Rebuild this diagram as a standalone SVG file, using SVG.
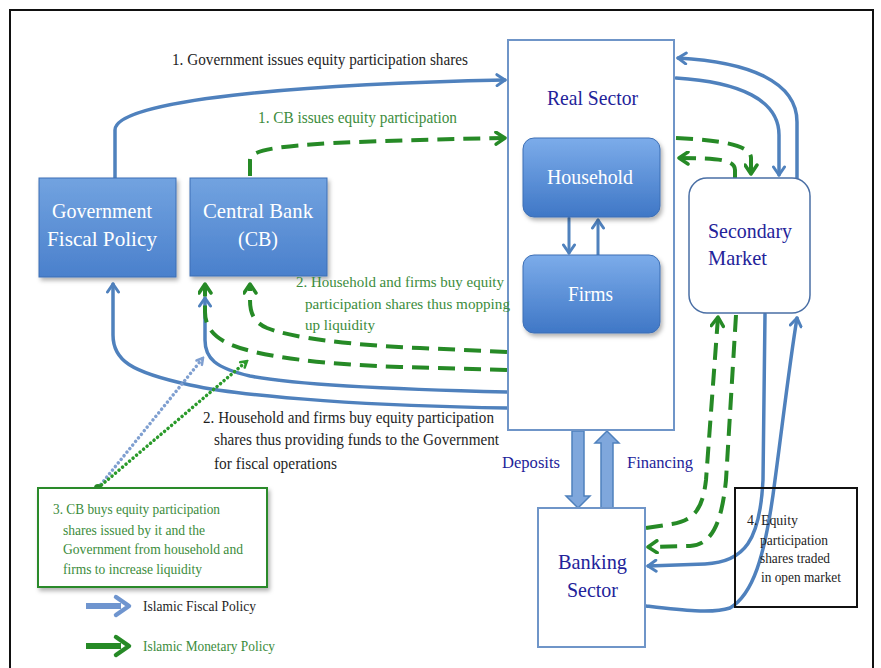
<svg xmlns="http://www.w3.org/2000/svg" width="881" height="668" viewBox="0 0 881 668">
<defs>
<linearGradient id="gBox" x1="0" y1="0" x2="0" y2="1">
<stop offset="0" stop-color="#72a3e0"/><stop offset="1" stop-color="#4a80cc"/>
</linearGradient>
<linearGradient id="gRound" x1="0" y1="0" x2="0" y2="1">
<stop offset="0" stop-color="#7cacea"/><stop offset="1" stop-color="#3f77c6"/>
</linearGradient>
<filter id="sh" x="-10%" y="-10%" width="130%" height="130%">
<feDropShadow dx="2" dy="3" stdDeviation="2" flood-color="#000" flood-opacity="0.3"/>
</filter>
<marker id="ab" viewBox="0 0 14 14" refX="11" refY="7" markerWidth="14" markerHeight="14" orient="auto" markerUnits="userSpaceOnUse">
<path d="M3,1.5 L11,7 L3,12.5" fill="none" stroke="#4f81bd" stroke-width="3" stroke-linecap="round" stroke-linejoin="round"/>
</marker>
<marker id="ag" viewBox="0 0 15 15" refX="12" refY="7.5" markerWidth="15" markerHeight="15" orient="auto" markerUnits="userSpaceOnUse">
<path d="M3,1.5 L12,7.5 L3,13.5" fill="none" stroke="#268a26" stroke-width="3.5" stroke-linecap="round" stroke-linejoin="round"/>
</marker>
<marker id="abs" viewBox="0 0 10 10" refX="8" refY="5" markerWidth="10" markerHeight="10" orient="auto" markerUnits="userSpaceOnUse">
<path d="M2,1.5 L8,5 L2,8.5" fill="none" stroke="#7f9fd0" stroke-width="2.5" stroke-linecap="round"/>
</marker>
<marker id="ags" viewBox="0 0 10 10" refX="8" refY="5" markerWidth="10" markerHeight="10" orient="auto" markerUnits="userSpaceOnUse">
<path d="M2,1.5 L8,5 L2,8.5" fill="none" stroke="#2a9a2a" stroke-width="2.5" stroke-linecap="round"/>
</marker>
</defs>
<style>
text{font-family:"Liberation Serif","Times New Roman",serif}
.blue{fill:none;stroke:#4f81bd;stroke-width:3.5;stroke-linecap:round;marker-end:url(#ab)}
.green{fill:none;stroke:#268a26;stroke-width:4;stroke-dasharray:17 9;marker-end:url(#ag)}
.dotb{fill:none;stroke:#7f9fd0;stroke-width:3.5;stroke-dasharray:0.1 4.5;stroke-linecap:round;marker-end:url(#abs)}
.dotg{fill:none;stroke:#2a9a2a;stroke-width:3.5;stroke-dasharray:0.1 4.5;stroke-linecap:round;marker-end:url(#ags)}
.sq{fill:url(#gBox);stroke:#3d6fb5;stroke-width:1;filter:url(#sh)}
.rd{fill:url(#gRound);stroke:#3d6fb5;stroke-width:1;filter:url(#sh)}
.wt{fill:#ffffff;font-size:21px}
.nv{fill:#23239a}
.gt{fill:#3c8c3c}
.bk{fill:#1e1e1e}
.blk{fill:#7fa7dc;stroke:#4f81bd;stroke-width:1.5}
</style>
<rect x="10" y="10" width="863" height="680" fill="#ffffff" stroke="#111" stroke-width="2"/>

<g id="connectors">
<path class="blue" d="M115,178 V130 C115,100 300,84 505,80"/>
<path class="green" d="M250,176 V160 C250,146 300,142 505,138"/>
<path class="blue" d="M507,408 C380,406 250,398 190,385 C130,372 113,360 113,335 V284"/>
<path class="blue" d="M507,392 C420,390 300,386 250,376 C215,368 205,358 205,340 V298"/>
<path class="green" d="M507,352 L420,348 C350,345 292,338 267,328 C253,322 250,312 250,300 V284"/>
<path class="green" d="M507,370 L400,367 C320,364 262,357 232,345 C212,337 205,325 205,312 V284"/>
<path class="dotb" d="M98,488 L203,358"/>
<path class="dotg" d="M98,488 L247,361"/>
<path class="blue" d="M797,178 V122 C797,82 750,62 678,58"/>
<path class="blue" d="M676,78 C740,82 779,100 779,135 V175"/>
<path class="green" d="M676,138 C720,140 751,145 751,158 V174"/>
<path class="green" d="M735,178 V170 C735,160 720,158 679,158"/>
<path class="green" d="M646,528 L672,524 C697,520 703,505 706,480 L718,317"/>
<path class="green" d="M736,315 L726,480 C722,520 713,545 690,546 L648,547"/>
<path class="blue" d="M765,314 L763,480 C760,540 745,562 705,564 L648,566"/>
<path class="blue" d="M646,606 C680,610 712,614 730,608 C752,595 765,560 775,480 C783,420 790,360 797,318"/>
<path class="blk" d="M572,431 H584 V496 H590 L578,508 L566,496 H572 Z"/>
<path class="blk" d="M601,508 H613 V443 H619 L607,431 L595,443 H601 Z"/>
<path class="blue" d="M569,218 V253" style="stroke-width:3"/>
<path class="blue" d="M598,255 V220" style="stroke-width:3"/>
<circle cx="98" cy="488" r="4" fill="#2a8a2a"/>
</g>

<g id="gov">
<rect class="sq" x="39" y="178" width="137" height="99"/>
<text class="wt" x="52" y="218" textLength="100" lengthAdjust="spacingAndGlyphs">Government</text>
<text class="wt" x="47" y="246" textLength="110" lengthAdjust="spacingAndGlyphs">Fiscal Policy</text>
</g>
<g id="cb">
<rect class="sq" x="190" y="178" width="137" height="98"/>
<text class="wt" x="203" y="218" textLength="110" lengthAdjust="spacingAndGlyphs">Central Bank</text>
<text class="wt" x="238" y="246" textLength="40" lengthAdjust="spacingAndGlyphs">(CB)</text>
</g>
<g id="real-sector">
<rect x="508" y="40" width="166" height="390" fill="none" stroke="#6f95c8" stroke-width="2"/>
<text class="nv" x="547" y="105" font-size="22" textLength="91" lengthAdjust="spacingAndGlyphs">Real Sector</text>
</g>
<g id="household">
<rect class="rd" x="523" y="138" width="137" height="79" rx="11"/>
<text class="wt" x="547" y="184" textLength="86" lengthAdjust="spacingAndGlyphs">Household</text>
</g>
<g id="firms">
<rect class="rd" x="523" y="255" width="137" height="78" rx="11"/>
<text class="wt" x="568" y="301" textLength="45" lengthAdjust="spacingAndGlyphs">Firms</text>
</g>
<g id="secondary-market">
<rect x="689" y="178" width="121" height="135" rx="18" fill="#fff" stroke="#4a6fa5" stroke-width="1.5"/>
<text class="nv" x="708" y="238" font-size="21" textLength="84" lengthAdjust="spacingAndGlyphs">Secondary</text>
<text class="nv" x="708" y="265" font-size="21" textLength="59" lengthAdjust="spacingAndGlyphs">Market</text>
</g>
<g id="banking-sector">
<rect x="538" y="508" width="107" height="139" fill="#fff" stroke="#6f95c8" stroke-width="2"/>
<text class="nv" x="558" y="569" font-size="22" textLength="69" lengthAdjust="spacingAndGlyphs">Banking</text>
<text class="nv" x="567" y="597" font-size="22" textLength="51" lengthAdjust="spacingAndGlyphs">Sector</text>
</g>
<g id="note-4">
<rect x="735" y="488" width="122" height="119" fill="none" stroke="#111" stroke-width="2"/>
<text class="bk" font-size="14"><tspan x="747" y="525" textLength="51" lengthAdjust="spacingAndGlyphs">4. Equity</tspan><tspan x="760" y="545" textLength="68" lengthAdjust="spacingAndGlyphs">participation</tspan><tspan x="760" y="563" textLength="70" lengthAdjust="spacingAndGlyphs">shares traded</tspan><tspan x="761" y="582" textLength="80" lengthAdjust="spacingAndGlyphs">in open market</tspan></text>
</g>
<g id="note-3">
<rect x="38" y="488" width="229" height="99" fill="#fff" stroke="#2a8a2a" stroke-width="2" filter="url(#sh)"/>
<text class="gt" font-size="14"><tspan x="53" y="514" textLength="167" lengthAdjust="spacingAndGlyphs">3. CB buys equity participation</tspan><tspan x="63" y="535" textLength="142" lengthAdjust="spacingAndGlyphs">shares issued by it and the</tspan><tspan x="63" y="554" textLength="180" lengthAdjust="spacingAndGlyphs">Government from household and</tspan><tspan x="63" y="574" textLength="139" lengthAdjust="spacingAndGlyphs">firms to increase liquidity</tspan></text>
</g>
<g id="labels">
<text class="bk" x="172" y="65" font-size="16" textLength="296" lengthAdjust="spacingAndGlyphs">1. Government issues equity participation shares</text>
<text class="gt" x="258" y="123" font-size="16" textLength="199" lengthAdjust="spacingAndGlyphs">1. CB issues equity participation</text>
<text class="gt" font-size="15"><tspan x="296" y="287" textLength="208" lengthAdjust="spacingAndGlyphs">2. Household and firms buy equity</tspan><tspan x="305" y="309" textLength="205" lengthAdjust="spacingAndGlyphs">participation shares thus mopping</tspan><tspan x="305" y="330" textLength="70" lengthAdjust="spacingAndGlyphs">up liquidity</tspan></text>
<text class="bk" font-size="16"><tspan x="203" y="423" textLength="291" lengthAdjust="spacingAndGlyphs">2. Household and firms buy equity participation</tspan><tspan x="214" y="445" textLength="285" lengthAdjust="spacingAndGlyphs">shares thus providing funds to the Government</tspan><tspan x="214" y="469" textLength="123" lengthAdjust="spacingAndGlyphs">for fiscal operations</tspan></text>
<text class="nv" x="502" y="468" font-size="17" textLength="58" lengthAdjust="spacingAndGlyphs">Deposits</text>
<text class="nv" x="627" y="468" font-size="17" textLength="66" lengthAdjust="spacingAndGlyphs">Financing</text>
</g>
<g id="legend">
<path d="M86,606 H121" stroke="#6f95cf" stroke-width="6" fill="none"/>
<path d="M116,597 L129,606 L116,615" stroke="#6f95cf" stroke-width="4.5" fill="none" stroke-linecap="round" stroke-linejoin="round"/>
<text class="bk" x="143" y="611" font-size="14" textLength="113" lengthAdjust="spacingAndGlyphs">Islamic Fiscal Policy</text>
<path d="M86,646 H121" stroke="#268a26" stroke-width="6" fill="none"/>
<path d="M116,637 L129,646 L116,655" stroke="#268a26" stroke-width="4.5" fill="none" stroke-linecap="round" stroke-linejoin="round"/>
<text class="gt" x="143" y="651" font-size="14" textLength="132" lengthAdjust="spacingAndGlyphs">Islamic Monetary Policy</text>
</g>
</svg>
